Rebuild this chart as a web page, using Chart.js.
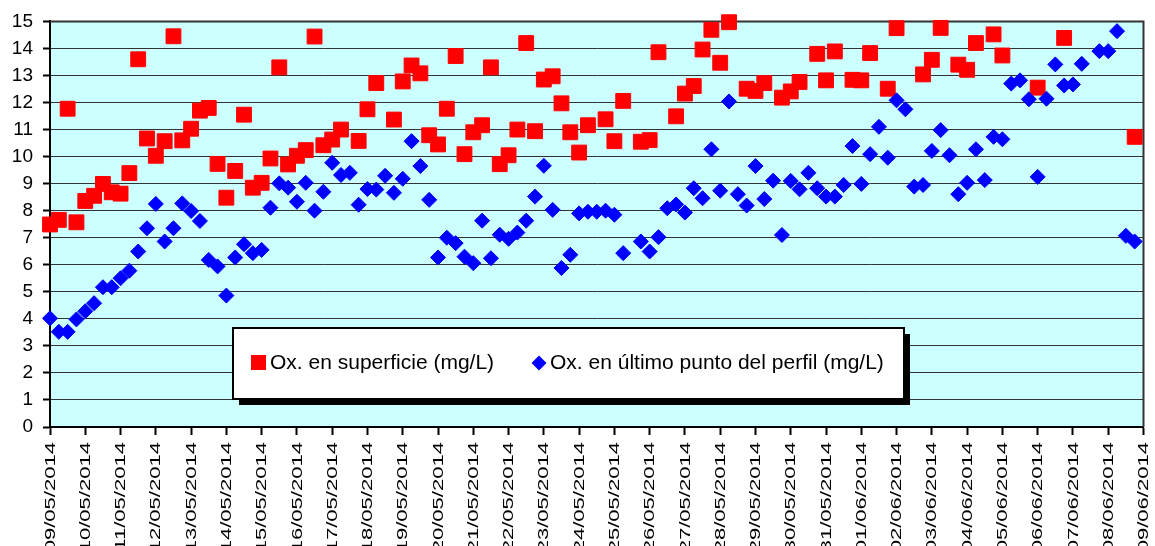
<!DOCTYPE html>
<html>
<head>
<meta charset="utf-8">
<script src="https://cdn.jsdelivr.net/npm/chart.js@4.4.0/dist/chart.umd.min.js"></script>
<style>
  html, body { margin: 0; padding: 0; background: #fff; }
</style>
</head>
<body>
<canvas id="oxChart" width="1155" height="546"></canvas>
<script>
// Fechas del eje X (un tick por día)
const dateLabels = [
  '09/05/2014', '10/05/2014', '11/05/2014', '12/05/2014', '13/05/2014', '14/05/2014',
  '15/05/2014', '16/05/2014', '17/05/2014', '18/05/2014', '19/05/2014', '20/05/2014',
  '21/05/2014', '22/05/2014', '23/05/2014', '24/05/2014', '25/05/2014', '26/05/2014',
  '27/05/2014', '28/05/2014', '29/05/2014', '30/05/2014', '31/05/2014', '01/06/2014',
  '02/06/2014', '03/06/2014', '04/06/2014', '05/06/2014', '06/06/2014', '07/06/2014',
  '08/06/2014', '09/06/2014'
];

// Mediciones cada 6 horas (0.25 día), null = sin dato
const sampleStepDays = 0.25;

const surfaceOx = [
  7.49, 7.66, 11.77, 7.57, 8.36, 8.55, 8.99, 8.68, 8.63, 9.39,
  13.6, 10.67, 10.03, 10.57, 14.45, 10.6, 11.03, 11.7, 11.8, 9.73,
  8.48, 9.47, 11.55, 8.85, 9.03, 9.93, 13.3, 9.71, 10.03, 10.24,
  14.44, 10.42, 10.63, 11.0, null, 10.58, 11.75, 12.72, null, 11.37,
  12.78, 13.37, 13.08, 10.79, 10.45, 11.77, 13.72, 10.09, 10.9, 11.16,
  13.3, 9.72, 10.05, 11.0, 14.2, 10.94, 12.85, 12.97, 11.97, 10.9,
  10.15, 11.16, null, 11.38, 10.57, 12.06, null, 10.55, 10.61, 13.86,
  null, 11.49, 12.33, 12.61, 13.96, 14.69, 13.47, 14.97, null, 12.51,
  12.43, 12.72, null, 12.18, 12.41, 12.76, null, 13.8, 12.82, 13.89,
  null, 12.84, 12.82, 13.83, null, 12.51, 14.75, null, null, 13.04,
  13.58, 14.76, null, 13.4, 13.21, 14.2, null, 14.52, 13.74, null,
  null, null, 12.55, null, null, 14.39, null, null, null, null,
  null, null, null, 10.73
];

const bottomOx = [
  4.02, 3.52, 3.52, 3.98, 4.28, 4.58, 5.17, 5.17, 5.5, 5.78,
  6.49, 7.35, 8.25, 6.86, 7.35, 8.27, 7.99, 7.62, 6.18, 5.94,
  4.86, 6.27, 6.76, 6.43, 6.55, 8.11, 9.01, 8.85, 8.33, 9.03,
  8.0, 8.7, 9.77, 9.32, 9.4, 8.22, 8.8, 8.78, 9.29, 8.66,
  9.18, 10.57, 9.65, 8.4, 6.27, 7.0, 6.8, 6.3, 6.06, 7.63,
  6.24, 7.11, 6.96, 7.19, 7.63, 8.52, 9.66, 8.03, 5.88, 6.37,
  7.9, 7.96, 7.96, 8.0, 7.85, 6.43, null, 6.86, 6.49, 7.02,
  8.09, 8.23, 7.93, 8.83, 8.46, 10.27, 8.74, 12.04, 8.61, 8.19,
  9.65, 8.43, 9.11, 7.1, 9.1, 8.79, 9.4, 8.83, 8.52, 8.52,
  8.95, 10.39, 8.99, 10.09, 11.1, 9.96, 12.08, 11.75, 8.89, 8.95,
  10.21, 10.98, 10.05, 8.61, 9.03, 10.27, 9.13, 10.73, 10.64, 12.7,
  12.82, 12.12, 9.25, 12.14, 13.41, 12.63, 12.67, 13.43, null, 13.9,
  13.9, 14.64, 7.07, 6.86
];

const seriesLabels = [
  'Ox. en superficie (mg/L)',
  'Ox. en último punto del perfil (mg/L)'
];

const yMin = 0;
const yMax = 15;

function toPoints(values) {
  return values
    .map((v, i) => ({ x: i * sampleStepDays, y: v }))
    .filter(p => p.y !== null);
}

// Fondo del área de gráfico
const plotBackground = {
  id: 'plotBackground',
  beforeDraw(chart) {
    const { ctx, chartArea: a } = chart;
    ctx.save();
    ctx.fillStyle = '#CCFFFF';
    ctx.fillRect(a.left, a.top, a.right - a.left, a.bottom - a.top);
    ctx.restore();
  },
  beforeDatasetsDraw(chart) {
    // marco superior y derecho
    const { ctx, chartArea: a } = chart;
    ctx.save();
    ctx.strokeStyle = '#333';
    ctx.lineWidth = 2;
    ctx.beginPath();
    ctx.moveTo(a.left, a.top);
    ctx.lineTo(a.right, a.top);
    ctx.lineTo(a.right, a.bottom);
    ctx.stroke();
    ctx.restore();
  }
};

// Etiquetas de fecha giradas (texto estirado como en Excel)
const dateTickLabels = {
  id: 'dateTickLabels',
  afterDraw(chart) {
    const sc = chart.scales.x;
    const ctx = chart.ctx;
    ctx.save();
    ctx.font = '15px "Liberation Sans", Arial, sans-serif';
    ctx.fillStyle = '#000';
    ctx.textAlign = 'right';
    ctx.textBaseline = 'middle';
    sc.ticks.forEach(t => {
      const label = dateLabels[t.value];
      if (!label) return;
      const px = sc.getPixelForValue(t.value);
      ctx.save();
      ctx.translate(px + 0.5, sc.top + 15);
      ctx.rotate(-Math.PI / 2);
      ctx.scale(1.47, 1);
      ctx.fillText(label, 0, 0);
      ctx.restore();
    });
    ctx.restore();
  }
};

// Leyenda en recuadro con sombra, dentro del área del gráfico
const boxedLegend = {
  id: 'boxedLegend',
  afterDraw(chart) {
    const ctx = chart.ctx;
    const ds = chart.data.datasets;
    const bx = 233, by = 328, bw = 671, bh = 71;
    ctx.save();
    ctx.fillStyle = '#000';
    ctx.fillRect(bx + 6, by + 6, bw, bh);
    ctx.fillStyle = '#fff';
    ctx.fillRect(bx, by, bw, bh);
    ctx.strokeStyle = '#000';
    ctx.lineWidth = 2;
    ctx.strokeRect(bx, by, bw, bh);

    const cy = 363;
    ctx.font = '21px "Liberation Sans", Arial, sans-serif';
    ctx.fillStyle = '#000';
    ctx.textAlign = 'left';
    ctx.textBaseline = 'middle';

    // serie 1: cuadrado rojo
    ctx.fillStyle = ds[0].backgroundColor;
    ctx.fillRect(251, cy - 8, 15, 15);
    ctx.fillStyle = '#000';
    ctx.fillText(ds[0].label, 270, cy);

    // serie 2: rombo azul
    const dx = 539, r = 7.5;
    ctx.fillStyle = ds[1].backgroundColor;
    ctx.beginPath();
    ctx.moveTo(dx - r, cy);
    ctx.lineTo(dx, cy - r);
    ctx.lineTo(dx + r, cy);
    ctx.lineTo(dx, cy + r);
    ctx.closePath();
    ctx.fill();
    ctx.fillStyle = '#000';
    ctx.fillText(ds[1].label, 550, cy);
    ctx.restore();
  }
};

const ctx = document.getElementById('oxChart').getContext('2d');

new Chart(ctx, {
  type: 'scatter',
  data: {
    datasets: [
      {
        label: seriesLabels[0],
        data: toPoints(surfaceOx),
        backgroundColor: '#FF0000',
        borderColor: '#FF0000',
        borderWidth: 1,
        pointStyle: 'rect',
        pointRadius: 10.5,
        pointHoverRadius: 10.5,
        order: 1,
        clip: false
      },
      {
        label: seriesLabels[1],
        data: toPoints(bottomOx),
        backgroundColor: '#0000FF',
        borderColor: '#0000FF',
        borderWidth: 1,
        pointStyle: 'rectRot',
        pointRadius: 7.5,
        pointHoverRadius: 7.5,
        order: 0,
        clip: false
      }
    ]
  },
  options: {
    responsive: false,
    animation: false,
    devicePixelRatio: 1,
    layout: { padding: { top: 19, right: 8, left: 0, bottom: 0 } },
    plugins: {
      legend: { display: false },
      tooltip: { enabled: false }
    },
    scales: {
      x: {
        type: 'linear',
        min: 0,
        max: dateLabels.length - 1,
        afterFit(scale) { scale.height = 119; },
        ticks: { stepSize: 1, autoSkip: false, display: false },
        grid: {
          drawOnChartArea: false,
          drawTicks: true,
          tickLength: 8,
          tickWidth: 2,
          tickColor: '#000'
        },
        border: { display: true, color: '#000', width: 2 }
      },
      y: {
        min: yMin,
        max: yMax,
        afterFit(scale) { scale.width = 50; },
        ticks: {
          stepSize: 1,
          padding: 10,
          color: '#000',
          font: { family: '"Liberation Sans", Arial, sans-serif', size: 19 }
        },
        grid: {
          color: '#333',
          lineWidth: 1,
          drawTicks: true,
          tickLength: 7,
          tickWidth: 2,
          tickColor: '#000'
        },
        border: { display: true, color: '#000', width: 2 }
      }
    }
  },
  plugins: [plotBackground, dateTickLabels, boxedLegend]
});
</script>
</body>
</html>
